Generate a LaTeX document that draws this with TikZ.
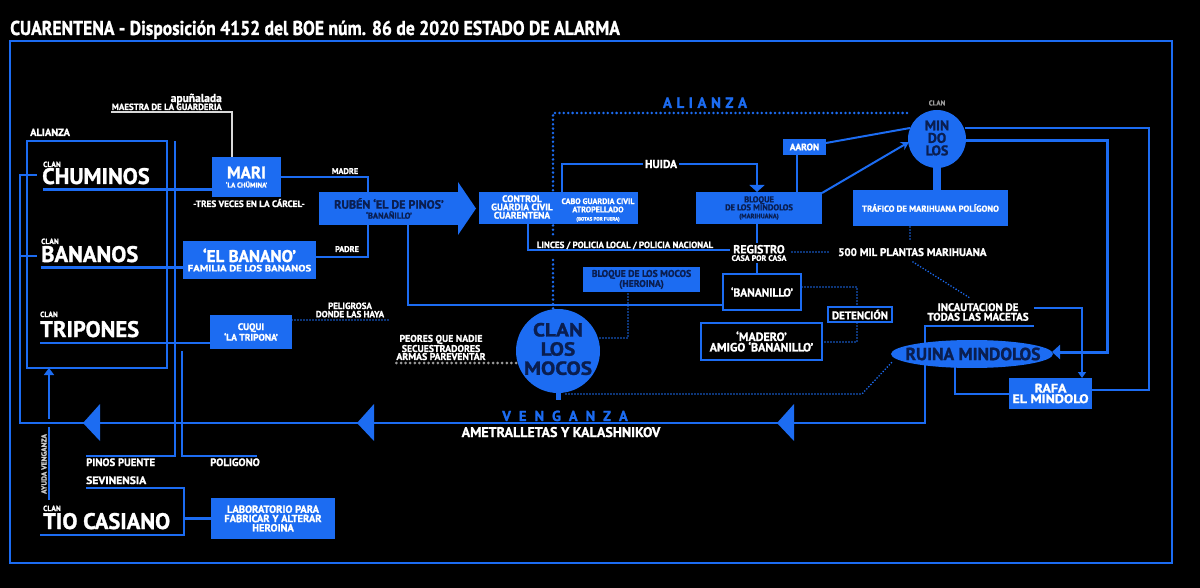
\documentclass[tikz,border=0pt]{standalone}
\usepackage{fontspec}
\usepackage{graphicx}
\setmainfont{PT Sans}[BoldFont={PT Sans Bold},BoldFeatures={FakeBold=1.3}]
\usetikzlibrary{arrows.meta,shapes.geometric}
\definecolor{bl}{HTML}{1C6CF2}
\definecolor{nv}{HTML}{0A1E50}
\definecolor{gr}{HTML}{9A9A9A}
\newcommand{\fz}[2]{\fontsize{#1}{#2}\selectfont\bfseries}
\newcommand{\ls}[1]{\hspace{#1}}
\newcommand{\sx}[2]{\scalebox{#1}[1]{#2}}
\begin{document}
\begin{tikzpicture}[x=1pt,y=-1pt,
  ln/.style={draw=bl,line width=2.6pt},
  dotbig/.style={draw=bl,line width=2.8pt,line cap=round,dash pattern=on 0pt off 4.4pt},
  dotsm/.style={draw=bl,line width=1.8pt,line cap=round,dash pattern=on 0pt off 3pt},
  dotgr/.style={draw=gr,line width=3pt,line cap=round,dash pattern=on 0pt off 4.6pt},
  bbox/.style={fill=bl,inner sep=0pt,align=center,text=white},
  kbox/.style={fill=black,draw=bl,line width=2.6pt,inner sep=0pt,align=center,text=white},
  lbl/.style={text=white,inner sep=0pt,align=center},
  clan/.style={lbl,anchor=base west,font=\fz{7.5}{7.5}},
  clanbig/.style={lbl,anchor=base west,font=\fz{22.5}{22.5}},
  place/.style={lbl,anchor=base west,font=\fz{10.7}{10.7}},
  tip/.style={-{Triangle[width=15pt,length=7pt]}},
]
\fill[black] (0,0) rectangle (1200,588);
\useasboundingbox (0,0) rectangle (1200,588);
\draw[bl,line width=2pt] (10,41) rectangle (1172,563);
\node[lbl,anchor=base west,font=\fz{20}{20}] (title) at (10,35) {\sx{0.88}{CUARENTENA - Disposición 4152 del BOE núm. 86 de 2020 ESTADO DE ALARMA}};

% ---------- coordinates
\coordinate (chuL) at (43,190);
\coordinate (banL) at (41,268);
\coordinate (triL) at (40,343);
\coordinate (tioL) at (40,535);

% ---------- lines (behind)
\draw[ln,line width=2.2pt] (27,141) rectangle (167,368);
\draw[ln,line width=2pt] (175,141) -- (175,456) -- (86,456);
\draw[ln,line width=2pt] (182,351) -- (182,456) -- (257,456);
\draw[ln,line width=2.4pt] (37,175) -- (20,175) -- (20,423) -- (925,423) -- (925,326) -- (1034,326);
\draw[ln,line width=2.4pt] (20,256) -- (37,256);
\fill[bl] (83,423) -- (100,404) -- (100,441) -- cycle;
\fill[bl] (357,423) -- (374,404) -- (374,441) -- cycle;
\fill[bl] (777,423) -- (794,404) -- (794,441) -- cycle;
\draw[ln,line width=2pt] (49,500) -- (49,427);
\draw[ln,line width=2pt,-{Triangle[width=10pt,length=7pt]}] (49,419) -- (49,368);

\draw[ln,line width=3pt] (chuL) -- (212,190);
\draw[ln,line width=3pt] (banL) -- (183,268);
\draw[ln,line width=2.4pt] (triL) -- (210,343);
\draw[ln,line width=2.4pt] (tioL) -- (184,535) -- (184,488) -- (86,488);
\draw[ln,line width=2.4pt] (184,518.5) -- (211,518.5);

\draw[white!85!black,line width=1.4pt] (232,157) -- (232,112) -- (111,112);
\draw[ln] (281,177) -- (368,177) -- (368,192);
\draw[ln] (316,257) -- (368,257) -- (368,225);
\draw[ln] (408,225) -- (408,305) -- (722,305);
\draw[dotsm] (292,320) -- (388,320);

\draw[dotbig] (907,113) -- (553,113) -- (553,237);
\draw[dotbig] (553,260) -- (553,310);
\draw[ln] (528,224) -- (528,250) -- (745,250);
\draw[ln] (757,224) -- (757,273);
\draw[ln,tip] (562,192) -- (562,164) -- (757,164) -- (757,192);
\draw[dotsm] (792,252) -- (828,252);
\draw[dotsm] (910,227) -- (910,240);
\draw[dotsm] (913,262) -- (970,298);
\draw[ln] (797,155) -- (797,192);
\draw[ln,line width=2pt] (826,143) -- (910,128);
\draw[ln,line width=2pt,-{Stealth[width=9pt,length=8pt]}] (822,193) -- (909,142);
\draw[ln,line width=2pt] (965,128) -- (1149,128) -- (1149,390) -- (1092,390);
\draw[ln,line width=3pt,-{Triangle[width=14pt,length=8pt]}] (964,141) -- (1107,141) -- (1107,352) -- (1052,352);
\draw[ln,line width=1.6pt,-{Triangle[width=8pt,length=6pt]}] (1034,308) -- (1082,308) -- (1082,378);
\draw[ln,line width=2pt] (955,366) -- (955,394) -- (1009,394);
\draw[dotsm] (600,338) -- (628,338) -- (628,293);
\draw[dotgr] (516,363) -- (395,363);
\draw[dotsm] (566,394) -- (862,394) -- (893,361);
\draw[dotsm] (802,287) -- (857,287) -- (857,306);
\draw[dotsm] (857,323) -- (857,342) -- (823,342);
\draw[ln,line width=5pt] (558,390) -- (558,400);
\draw[ln,line width=8pt] (937,160) -- (937,191);

% ---------- boxes
\node[bbox,minimum width=69pt,minimum height=40pt,font=\fz{7}{9}] (mari) at (246.5,177) {{\fz{17}{17}MARI}\\‘LA CHÜMINA’};
\node[bbox,minimum width=133pt,minimum height=38pt,font=\fz{9.2}{9.4}] (banano) at (249.5,260) {{\fz{17}{17}‘EL BANANO’}\\\sx{1.17}{FAMILIA DE LOS BANANOS}};
\node[bbox,minimum width=82pt,minimum height=34pt,font=\fz{9.5}{9}] (cuqui) at (251,332) {CUQUI\\‘LA TRIPONA’};
\node[bbox,minimum width=124pt,minimum height=41pt,font=\fz{10.5}{9.3}] (lab) at (273,518.5) {LABORATORIO PARA\\FABRICAR Y ALTERAR\\HEROINA};
\node[bbox,text=nv,minimum width=140pt,minimum height=33pt,font=\fz{8.5}{10}] (rub) at (389,208.5) {{\fz{12}{12}RUBÉN ‘EL DE PINOS’}\\‘BANAÑILLO’};
\fill[bl] (458,182) -- (476,208.5) -- (458,235) -- cycle;
\node[bbox,minimum width=159pt,minimum height=32pt] (ctrl) at (558.5,208) {};
\node[lbl,font=\fz{9.5}{8.3}] (ctrlA) at (522,207) {CONTROL\\GUARDIA CIVIL\\CUARENTENA};
\node[lbl,font=\fz{8}{8.3}] (ctrlB) at (598,210) {CABO GUARDIA CIVIL\\ATROPELLADO\\{\fz{5}{5}(BOTAS POR FUERA)}};
\node[bbox,text=nv,minimum width=126pt,minimum height=32pt,font=\fz{8.5}{8}] (mindb) at (759,208) {BLOQUE\\DE LOS MINDOLOS\\{\fz{6.5}{6.5}(MARIHUANA)}};
\node[bbox,minimum width=43pt,minimum height=16pt,font=\fz{9.5}{9.5}] (aaron) at (804.5,147) {AARON};
\node[bbox,minimum width=155pt,minimum height=36pt,font=\fz{8.7}{8.7}] (traf) at (930.5,208) {TRÁFICO DE MARIHUANA POLÍGONO};
\node[circle,fill=bl,minimum size=58pt,inner sep=0pt] (mind) at (937,139) {};
\node[lbl,text=nv,font=\fz{14}{12.5}] (mindt) at (937,138) {MIN\\DO\\LOS};
\node[lbl,text=gr,font=\fz{7}{7}] (mclan) at (937,103) {CLAN};
\node[circle,fill=bl,minimum size=84pt,inner sep=0pt] (mocos) at (558,351) {};
\node[lbl,text=nv,font=\fz{19}{19.2}] (mocost) at (558,349) {\sx{1.12}{CLAN}\\\sx{1.12}{LOS}\\\sx{1.12}{MOCOS}};
\node[bbox,text=nv,minimum width=117pt,minimum height=25pt,font=\fz{9.7}{8.5}] (mocosb) at (641.5,279.5) {BLOQUE DE LOS MOCOS\\(HEROINA)};
\node[kbox,minimum width=78pt,minimum height=36pt,font=\fz{11.5}{11.5}] (bnl) at (762,292) {‘BANANILLO’};
\node[kbox,minimum width=121pt,minimum height=37pt,font=\fz{12}{10.5}] (mad) at (761.5,341.5) {‘MADERO’\\AMIGO ‘BANANILLO’};
\node[kbox,line width=2pt,minimum width=64pt,minimum height=15pt,font=\fz{11}{11}] (det) at (860,314.5) {DETENCIÓN};
\node[bbox,minimum width=83pt,minimum height=31pt,font=\fz{12.5}{10.5}] (rafa) at (1050.5,393.5) {\sx{1.12}{RAFA}\\\sx{1.12}{EL MINDOLO}};
\node[ellipse,fill=bl,minimum width=162pt,minimum height=28pt,inner sep=0pt] (ruina) at (972,354) {};
\node[lbl,text=nv,font=\fz{17.5}{17.5}] (ruinat) at (973,354) {RUINA MINDOLOS};

% ---------- labels
\node[lbl,anchor=base west,font=\fz{10.5}{10.5}] (alz1) at (30,136) {ALIANZA};
\node[clan] (c1) at (43,167) {CLAN};
\node[clanbig] (chu) at (42,184) {CHUMINOS};
\node[clan] (c2) at (41,244) {CLAN};
\node[clanbig] (ban) at (41,262) {BANANOS};
\node[clan] (c3) at (40,317) {CLAN};
\node[clanbig] (tri) at (40,337) {TRIPONES};
\node[clan] (c4) at (43,511) {CLAN};
\node[clanbig] (tio) at (43,529) {TIO CASIANO};
\node[place] (pp) at (86,466) {PINOS PUENTE};
\node[place] (pol) at (210,466) {POLIGONO};
\node[place] (sev) at (86,484) {\sx{1.08}{SEVINENSIA}};
\node[lbl,rotate=90,font=\fz{7.5}{7.5},text=white!80!black] (ayuda) at (44,464) {AYUDA VENGANZA};
\node[lbl,anchor=base east,font=\fz{11.5}{11.5}] (apu) at (222,102) {apuñalada};
\node[lbl,anchor=base east,font=\fz{8.9}{8.9}] (maes) at (222,110) {MAESTRA DE LA GUARDERIA};
\node[lbl,anchor=base,font=\fz{9.2}{9.2}] (tres) at (249,207) {-TRES VECES EN LA CÁRCEL-};
\node[lbl,anchor=base,font=\fz{8.3}{8.3}] (madre) at (345,174) {MADRE};
\node[lbl,anchor=base,font=\fz{8.3}{8.3}] (padre) at (347,252) {PADRE};
\node[lbl,font=\fz{9}{8.3}] (pelig) at (350,310) {PELIGROSA\\DONDE LAS HAYA};
\node[lbl,font=\fz{9.8}{8}] (peores) at (441,347.5) {PEORES QUE NADIE\\SECUESTRADORES\\ARMAS PAREVENTAR};
\node[lbl,anchor=base,font=\fz{9}{9}] (linces) at (625,248) {LINCES / POLICIA LOCAL / POLICIA NACIONAL};
\node[lbl,fill=black,inner sep=1.5pt,font=\fz{8}{7.5}] (reg) at (759,253) {{\fz{11.8}{11}REGISTRO}\\CASA POR CASA};
\node[lbl,anchor=base west,font=\fz{11}{11}] (mil) at (838,256) {500 MIL PLANTAS MARIHUANA};
\node[lbl,fill=black,inner xsep=1.5pt,inner ysep=0.5pt,font=\fz{11.5}{11.5}] (huida) at (661,164) {HUIDA};
\node[lbl,font=\fz{11}{9.6}] (inc) at (978,312) {INCAUTACION DE\\TODAS LAS MACETAS};
\node[lbl,anchor=base,text=bl,font=\fz{15}{15}] (alz2) at (705,108) {A\ls{4.5pt}L\ls{4.5pt}I\ls{4.5pt}A\ls{4.5pt}N\ls{4.5pt}Z\ls{4.5pt}A};
\node[lbl,anchor=base,text=bl,font=\fz{14.5}{14.5}] (veng) at (565,421) {V\ls{8pt}E\ls{8pt}N\ls{8pt}G\ls{8pt}A\ls{8pt}N\ls{8pt}Z\ls{8pt}A};
\node[lbl,anchor=base,font=\fz{14}{14}] (amet) at (561,437) {AMETRALLETAS Y KALASHNIKOV};
\end{tikzpicture}
\end{document}
